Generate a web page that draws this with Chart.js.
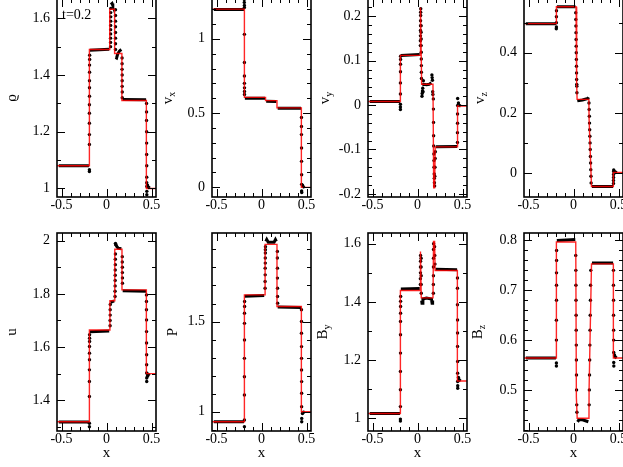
<!DOCTYPE html>
<html>
<head>
<meta charset="utf-8">
<script src="https://cdn.jsdelivr.net/npm/chart.js@4.4.1/dist/chart.umd.min.js"></script>
<style>
html,body{margin:0;padding:0;background:#fff;overflow:hidden;}
#wrap{position:relative;width:623px;height:467px;overflow:hidden;background:#fff;}
#wrap canvas{position:absolute;}
</style>
</head>
<body>
<div id="wrap"></div>
<script>
// =====================================
// DATA  (red = reference solution, band = dense black plateaus, dots = black points)
// =====================================

const rhoLine = [[-0.55,1.08],[-0.19,1.08],[-0.19,1.49],[0.036,1.49],[0.036,1.632],[0.09,1.632],[0.09,1.476],[0.171,1.476],[0.171,1.31],[0.443,1.31],[0.443,1.0],[0.55,1.0]];
const rhoBand = [[-0.53,1.08],[-0.195,1.08],null,[-0.186,1.487],[0.03,1.491],null,[0.048,1.648],[0.062,1.652],[0.07,1.645],null,[0.1,1.462],[0.112,1.46],[0.125,1.475],[0.145,1.485],[0.165,1.49],null,[0.18,1.314],[0.44,1.313],null,[0.456,1.006],[0.47,1.004],[0.48,1.001]];
const rhoDots = [[-0.19,1.06],[-0.19,1.066],[-0.19,1.155],[-0.19,1.19],[-0.19,1.23],[-0.19,1.265],[-0.19,1.295],[-0.189,1.325],[-0.189,1.355],[-0.189,1.38],[-0.188,1.41],[-0.188,1.435],[-0.187,1.455],[-0.187,1.47],
  [0.045,1.50],[0.045,1.515],[0.045,1.53],[0.046,1.545],[0.046,1.56],[0.046,1.575],[0.047,1.59],[0.047,1.605],[0.047,1.62],[0.048,1.635],
  [0.1,1.63],[0.1,1.61],[0.1,1.59],[0.1,1.57],[0.1,1.55],[0.1,1.53],[0.1,1.51],[0.1,1.49],
  [0.173,1.46],[0.173,1.44],[0.173,1.42],[0.174,1.40],[0.174,1.38],[0.174,1.36],[0.175,1.34],[0.175,1.32],
  [0.445,1.30],[0.445,1.27],[0.445,1.24],[0.446,1.20],[0.446,1.16],[0.446,1.12],[0.447,1.08],[0.447,1.04],[0.447,1.02],[0.448,1.007],[0.448,0.99],[0.448,0.978],[0.455,1.012],[0.46,1.006]];

const vxLine = [[-0.55,1.2],[-0.19,1.2],[-0.19,0.606],[0.045,0.606],[0.045,0.584],[0.172,0.584],[0.172,0.535],[0.443,0.535],[0.443,0],[0.55,0]];
const vxBand = [[-0.53,1.198],[-0.195,1.198],null,[-0.185,0.6],[0.04,0.6],null,[0.052,0.58],[0.165,0.578],null,[0.18,0.532],[0.44,0.532],null,[0.455,0.012],[0.465,0.004],[0.48,0.0]];
const vxDots = [[-0.191,1.265],[-0.191,1.245],[-0.19,1.225],[-0.19,1.21],[-0.19,1.03],[-0.19,0.84],[-0.19,0.75],[-0.19,0.70],[-0.189,0.67],[-0.189,0.645],[-0.189,0.625],
  [0.444,0.47],[0.444,0.41],[0.444,0.355],[0.445,0.265],[0.445,0.175],[0.446,0.085],[0.446,0.02],[0.446,-0.025],[0.447,-0.035],[0.455,0.015]];

const vyLine = [[-0.55,0.008],[-0.19,0.008],[-0.19,0.112],[0.028,0.112],[0.031,0.22],[0.036,0.22],[0.046,0.047],[0.172,0.047],[0.18,-0.186],[0.19,-0.186],[0.197,-0.094],[0.443,-0.094],[0.445,-0.002],[0.55,-0.002]];
const vyBand = [[-0.53,0.008],[-0.195,0.008],null,[-0.185,0.112],[0.025,0.114],null,[0.052,0.045],[0.07,0.047],[0.1,0.046],[0.13,0.047],[0.155,0.05],null,[0.205,-0.094],[0.44,-0.093],null,[0.456,0.0],[0.48,-0.002]];
const vyDots = [[-0.19,-0.01],[-0.19,-0.004],[-0.19,0.002],[-0.19,0.025],[-0.19,0.05],[-0.189,0.075],[-0.189,0.092],[-0.188,0.103],[-0.188,0.11],
  [0.032,0.134],[0.032,0.145],[0.033,0.156],[0.033,0.168],[0.034,0.179],[0.034,0.19],[0.035,0.202],[0.035,0.209],[0.036,0.217],
  [0.04,0.179],[0.04,0.164],[0.041,0.149],[0.041,0.134],[0.042,0.119],[0.042,0.104],[0.043,0.089],[0.043,0.074],[0.044,0.06],
  [0.05,0.02],[0.052,0.026],[0.055,0.032],[0.058,0.038],[0.062,0.03],[0.065,0.055],
  [0.16,0.068],[0.163,0.062],[0.166,0.056],[0.169,0.03],[0.171,0.024],
  [0.176,0.014],[0.177,-0.009],[0.178,-0.039],[0.179,-0.069],[0.18,-0.092],[0.182,-0.11],[0.183,-0.125],[0.184,-0.14],[0.186,-0.155],[0.187,-0.165],[0.188,-0.175],[0.19,-0.182],[0.192,-0.16],[0.194,-0.14],[0.196,-0.12],[0.198,-0.105],
  [0.444,-0.084],[0.444,-0.062],[0.445,-0.041],[0.445,-0.02],[0.446,-0.001],[0.446,0.015],[0.455,0.005]];

const vzLine = [[-0.55,0.497],[-0.19,0.497],[-0.19,0.553],[0.028,0.553],[0.033,0.3],[0.037,0.3],[0.04,0.245],[0.171,0.245],[0.173,0.18],[0.2,-0.045],[0.443,-0.045],[0.443,0.002],[0.55,0.002]];
const vzBand = [[-0.53,0.497],[-0.195,0.497],null,[-0.185,0.553],[0.022,0.553],null,[0.042,0.24],[0.1,0.243],[0.16,0.248],[0.168,0.252],null,[0.205,-0.045],[0.44,-0.045],null,[0.456,0.006],[0.48,0.001]];
const vzDots = [[-0.191,0.48],[-0.19,0.486],[-0.19,0.50],[-0.19,0.52],[-0.189,0.54],
  [0.025,0.533],[0.026,0.511],[0.027,0.489],[0.028,0.467],[0.029,0.444],[0.03,0.422],[0.031,0.40],[0.032,0.378],[0.033,0.355],[0.034,0.333],[0.035,0.311],[0.036,0.295],[0.037,0.289],[0.038,0.267],
  [0.172,0.233],[0.174,0.211],[0.176,0.189],[0.178,0.166],[0.18,0.144],[0.182,0.122],[0.184,0.10],[0.186,0.078],[0.188,0.055],[0.19,0.033],[0.192,0.011],[0.194,-0.011],[0.196,-0.033],
  [0.444,-0.035],[0.444,-0.025],[0.445,-0.015],[0.445,-0.005],[0.446,0.005],[0.447,0.01]];

const uLine = [[-0.55,1.319],[-0.19,1.319],[-0.19,1.664],[0.038,1.664],[0.038,1.774],[0.092,1.774],[0.092,1.968],[0.172,1.968],[0.172,1.815],[0.443,1.815],[0.443,1.5],[0.55,1.5]];
const uBand = [[-0.53,1.318],[-0.195,1.318],null,[-0.185,1.657],[0.03,1.66],null,[0.045,1.768],[0.085,1.774],null,[0.105,1.985],[0.115,1.978],[0.13,1.972],[0.165,1.97],null,[0.18,1.812],[0.44,1.81],null,[0.456,1.494],[0.48,1.5]];
const uDots = [[-0.19,1.30],[-0.19,1.313],[-0.19,1.414],[-0.19,1.47],[-0.19,1.514],[-0.189,1.552],[-0.189,1.577],[-0.189,1.602],[-0.188,1.621],[-0.188,1.633],[-0.188,1.646],
  [0.04,1.68],[0.04,1.70],[0.041,1.72],[0.041,1.74],[0.042,1.76],
  [0.095,1.79],[0.095,1.81],[0.096,1.83],[0.096,1.85],[0.097,1.87],[0.097,1.89],[0.098,1.91],[0.098,1.93],[0.099,1.95],[0.1,1.99],[0.102,1.985],
  [0.175,1.94],[0.175,1.92],[0.176,1.90],[0.176,1.88],[0.177,1.86],[0.177,1.84],
  [0.444,1.796],[0.444,1.771],[0.444,1.74],[0.445,1.702],[0.445,1.658],[0.445,1.615],[0.446,1.571],[0.446,1.533],[0.446,1.502],[0.447,1.483],[0.447,1.47],[0.455,1.49],[0.46,1.497]];

const pLine = [[-0.55,0.944],[-0.19,0.944],[-0.19,1.648],[0.04,1.648],[0.04,1.928],[0.172,1.928],[0.172,1.583],[0.443,1.583],[0.443,1.0],[0.55,1.0]];
const pBand = [[-0.53,0.944],[-0.195,0.944],null,[-0.185,1.64],[0.03,1.645],null,[0.048,1.945],[0.058,1.955],[0.075,1.94],[0.14,1.94],[0.155,1.955],[0.165,1.945],null,[0.18,1.58],[0.44,1.578],null,[0.456,0.995],[0.48,1.0]];
const pDots = [[-0.19,0.917],[-0.19,0.954],[-0.19,1.093],[-0.19,1.194],[-0.19,1.296],[-0.189,1.398],[-0.189,1.49],[-0.189,1.546],[-0.188,1.583],[-0.188,1.611],
  [0.04,1.685],[0.04,1.722],[0.041,1.759],[0.041,1.796],[0.042,1.824],[0.042,1.852],[0.043,1.88],[0.043,1.898],[0.044,1.915],
  [0.176,1.889],[0.176,1.852],[0.177,1.796],[0.177,1.741],[0.178,1.685],[0.178,1.639],[0.179,1.602],
  [0.444,1.565],[0.444,1.5],[0.444,1.435],[0.445,1.361],[0.445,1.296],[0.445,1.231],[0.446,1.167],[0.446,1.102],[0.446,1.028],[0.447,0.963],[0.447,0.944],[0.455,0.99],[0.46,0.996]];

const byLine = [[-0.55,1.016],[-0.19,1.016],[-0.19,1.439],[0.03,1.439],[0.03,1.573],[0.036,1.573],[0.042,1.414],[0.172,1.414],[0.178,1.608],[0.19,1.608],[0.196,1.508],[0.443,1.508],[0.443,1.128],[0.55,1.128]];
const byBand = [[-0.53,1.016],[-0.195,1.016],null,[-0.185,1.444],[0.025,1.446],null,[0.046,1.405],[0.05,1.395],[0.06,1.41],[0.1,1.413],[0.155,1.41],[0.162,1.395],[0.168,1.405],null,[0.2,1.512],[0.44,1.511],null,[0.456,1.133],[0.48,1.128]];
const byDots = [[-0.19,0.99],[-0.19,0.997],[-0.19,1.04],[-0.19,1.098],[-0.19,1.161],[-0.189,1.224],[-0.189,1.287],[-0.189,1.333],[-0.188,1.361],[-0.188,1.384],[-0.188,1.402],[-0.187,1.419],
  [0.032,1.46],[0.032,1.48],[0.033,1.50],[0.033,1.52],[0.034,1.54],[0.034,1.56],
  [0.04,1.55],[0.04,1.52],[0.041,1.49],[0.041,1.46],[0.042,1.43],
  [0.176,1.43],[0.176,1.46],[0.177,1.49],[0.177,1.52],[0.178,1.55],[0.178,1.58],[0.179,1.60],
  [0.19,1.59],[0.192,1.56],[0.194,1.53],
  [0.444,1.482],[0.444,1.447],[0.444,1.39],[0.445,1.338],[0.445,1.293],[0.445,1.247],[0.446,1.195],[0.446,1.155],[0.446,1.126],[0.447,1.103],[0.447,1.112],[0.455,1.14],[0.46,1.133]];

const bzLine = [[-0.55,0.564],[-0.19,0.564],[-0.19,0.797],[0.025,0.797],[0.032,0.485],[0.038,0.485],[0.041,0.443],[0.172,0.443],[0.173,0.5],[0.178,0.5],[0.2,0.753],[0.443,0.753],[0.443,0.564],[0.55,0.564]];
const bzBand = [[-0.53,0.564],[-0.195,0.564],null,[-0.185,0.8],[0.02,0.802],null,[0.045,0.436],[0.06,0.44],[0.1,0.44],[0.165,0.436],null,[0.205,0.755],[0.44,0.755],null,[0.456,0.567],[0.48,0.564]];
const bzDots = [[-0.19,0.548],[-0.19,0.554],[-0.19,0.60],[-0.19,0.64],[-0.189,0.68],[-0.189,0.71],[-0.189,0.735],[-0.188,0.76],[-0.188,0.78],
  [0.025,0.77],[0.026,0.74],[0.027,0.71],[0.028,0.68],[0.029,0.65],[0.03,0.62],[0.031,0.59],[0.032,0.56],[0.033,0.53],[0.034,0.5],[0.036,0.47],[0.038,0.455],
  [0.174,0.47],[0.176,0.5],[0.178,0.53],[0.18,0.56],[0.182,0.59],[0.184,0.62],[0.186,0.65],[0.188,0.68],[0.19,0.71],[0.192,0.74],
  [0.444,0.74],[0.444,0.71],[0.445,0.68],[0.445,0.65],[0.446,0.62],[0.446,0.6],[0.447,0.575],[0.447,0.555],[0.448,0.548],[0.455,0.57],[0.46,0.567]];


// =====================================
// PANEL LAYOUT
// =====================================

const PAD_L = 56, PAD_T = 6, PAD_R = 8, PAD_B = 40, PLOT_W = 99;
const SERIF = "'Liberation Serif','Times New Roman','DejaVu Serif',serif";

const panels = [
  {line:rhoLine, band:rhoBand, dots:rhoDots, L:57,  T:-1,  B:197, yMin:0.97,   yMax:1.668, major:0.2, minor:0.1,  name:"ϱ", sub:"",  nameX:12,  note:"t=0.2"},
  {line:vxLine,  band:vxBand,  dots:vxDots,  L:212, T:-1,  B:197, yMin:-0.065, yMax:1.268, major:0.5, minor:0.1,  name:"v", sub:"x", nameX:168},
  {line:vyLine,  band:vyBand,  dots:vyDots,  L:368, T:-1,  B:197, yMin:-0.207, yMax:0.239, major:0.1, minor:0.02, name:"v", sub:"y", nameX:325},
  {line:vzLine,  band:vzBand,  dots:vzDots,  L:524, T:-1,  B:197, yMin:-0.08,  yMax:0.579, major:0.2, minor:0.1,  name:"v", sub:"z", nameX:480},
  {line:uLine,   band:uBand,   dots:uDots,   L:57,  T:233, B:431, yMin:1.284,  yMax:2.029, major:0.2, minor:0.1,  name:"u", sub:"",  nameX:12,  xTitle:true},
  {line:pLine,   band:pBand,   dots:pDots,   L:212, T:233, B:431, yMin:0.893,  yMax:1.991, major:0.5, minor:0.1,  name:"P", sub:"",  nameX:173, xTitle:true},
  {line:byLine,  band:byBand,  dots:byDots,  L:368, T:233, B:431, yMin:0.956,  yMax:1.637, major:0.2, minor:0.1,  name:"B", sub:"y", nameX:323, xTitle:true},
  {line:bzLine,  band:bzBand,  dots:bzDots,  L:524, T:233, B:431, yMin:0.4175, yMax:0.815, major:0.1, minor:0.02, name:"B", sub:"z", nameX:478, xTitle:true}
];

function pts(a){
  return a.map(p => p ? {x:p[0], y:p[1]} : {x:null, y:null});
}

function fmt(v){
  return String(+v.toFixed(3));
}


// =====================================
// FRAME, INWARD TICKS, TITLES
// =====================================

const frameTicks = {
  id:"frameTicks",
  afterDraw(chart){
    const o = chart.options.plugins.frameTicks;
    const ctx = chart.ctx;
    const a = chart.chartArea;
    const xs = chart.scales.x, ys = chart.scales.y;

    ctx.save();
    ctx.strokeStyle = "#000";
    ctx.lineWidth = 1;

    function marks(min, max, minor, major, draw){
      const k0 = Math.ceil(min/minor - 1e-6), k1 = Math.floor(max/minor + 1e-6);
      for(let k=k0; k<=k1; k++){
        const v = k*minor;
        const r = v/major;
        draw(v, Math.abs(r - Math.round(r)) < 1e-6 ? 8 : 4);
      }
    }

    ctx.beginPath();
    marks(xs.min, xs.max, 0.1, 0.5, (v,len)=>{
      const px = Math.round(xs.getPixelForValue(v)) + 0.5;
      ctx.moveTo(px, a.bottom); ctx.lineTo(px, a.bottom - len);
      ctx.moveTo(px, a.top);    ctx.lineTo(px, a.top + len);
    });
    marks(ys.min, ys.max, o.minor, o.major, (v,len)=>{
      const py = Math.round(ys.getPixelForValue(v)) + 0.5;
      ctx.moveTo(a.left, py);  ctx.lineTo(a.left + len, py);
      ctx.moveTo(a.right, py); ctx.lineTo(a.right - len, py);
    });
    ctx.stroke();

    ctx.lineWidth = 1.6;
    ctx.strokeRect(a.left, a.top, a.right - a.left, a.bottom - a.top);

    // y title, rotated, with subscript
    ctx.fillStyle = "#000";
    ctx.textBaseline = "middle";
    ctx.textAlign = "left";
    ctx.translate(o.nameX, (a.top + a.bottom)/2);
    ctx.rotate(-Math.PI/2);
    ctx.font = "15px " + SERIF;
    const wm = ctx.measureText(o.name).width;
    ctx.font = "10px " + SERIF;
    const ws = o.sub ? ctx.measureText(o.sub).width : 0;
    const x0 = -(wm + ws)/2;
    ctx.font = "15px " + SERIF;
    ctx.fillText(o.name, x0, 0);
    if(o.sub){
      ctx.font = "10px " + SERIF;
      ctx.fillText(o.sub, x0 + wm, 4);
    }
    ctx.restore();

    ctx.save();
    ctx.fillStyle = "#000";
    if(o.xTitle){
      ctx.font = "15px " + SERIF;
      ctx.textAlign = "center";
      ctx.textBaseline = "middle";
      ctx.fillText("x", (a.left + a.right)/2, o.xTitleY);
    }
    if(o.note){
      ctx.font = "14px " + SERIF;
      ctx.textAlign = "left";
      ctx.textBaseline = "middle";
      ctx.fillText(o.note, a.left + 5, a.top + 16);
    }
    ctx.restore();
  }
};


// =====================================
// BUILD CHARTS
// =====================================

const wrap = document.getElementById("wrap");

panels.forEach(p=>{

  const cw = PAD_L + PLOT_W + PAD_R;
  const ch = PAD_T + (p.B - p.T) + PAD_B;
  const left = p.L - PAD_L;
  const top = p.T - PAD_T;

  const cv = document.createElement("canvas");
  cv.width = cw; cv.height = ch;
  cv.style.left = left + "px";
  cv.style.top = top + "px";
  cv.style.width = cw + "px";
  cv.style.height = ch + "px";
  wrap.appendChild(cv);

  new Chart(cv,{
    type:"line",
    data:{
      datasets:[
        {data:pts(p.line), borderColor:"rgba(255,0,0,0.85)", borderWidth:1.4, pointRadius:0, tension:0},
        {data:pts(p.band), borderColor:"#000", borderWidth:3, pointRadius:0, spanGaps:false, tension:0},
        {data:pts(p.dots), showLine:false, pointRadius:1.7, pointBackgroundColor:"#000", pointBorderWidth:0}
      ]
    },
    options:{
      responsive:false,
      animation:false,
      events:[],
      layout:{padding:{left:0, top:PAD_T, right:PAD_R, bottom:0}},
      plugins:{
        legend:{display:false},
        tooltip:{enabled:false},
        frameTicks:{
          major:p.major, minor:p.minor, name:p.name, sub:p.sub,
          nameX:p.nameX - left, note:p.note,
          xTitle:p.xTitle, xTitleY:453 - top
        }
      },
      scales:{
        x:{
          type:"linear", min:-0.55, max:0.55,
          grid:{display:false, drawTicks:false}, border:{display:false},
          ticks:{stepSize:0.5, includeBounds:false, autoSkip:false, maxRotation:0,
                 padding:0, color:"#000", font:{family:SERIF, size:14}, callback:fmt},
          afterFit:s=>{ s.height = PAD_B; s.paddingLeft = 0; s.paddingRight = 0; }
        },
        y:{
          type:"linear", min:p.yMin, max:p.yMax,
          grid:{display:false, drawTicks:false}, border:{display:false},
          ticks:{stepSize:p.major, includeBounds:false, autoSkip:false,
                 padding:7, color:"#000", font:{family:SERIF, size:14}, callback:fmt},
          afterFit:s=>{ s.width = PAD_L; s.paddingTop = 0; s.paddingBottom = 0; }
        }
      }
    },
    plugins:[frameTicks]
  });

});
</script>
</body>
</html>
